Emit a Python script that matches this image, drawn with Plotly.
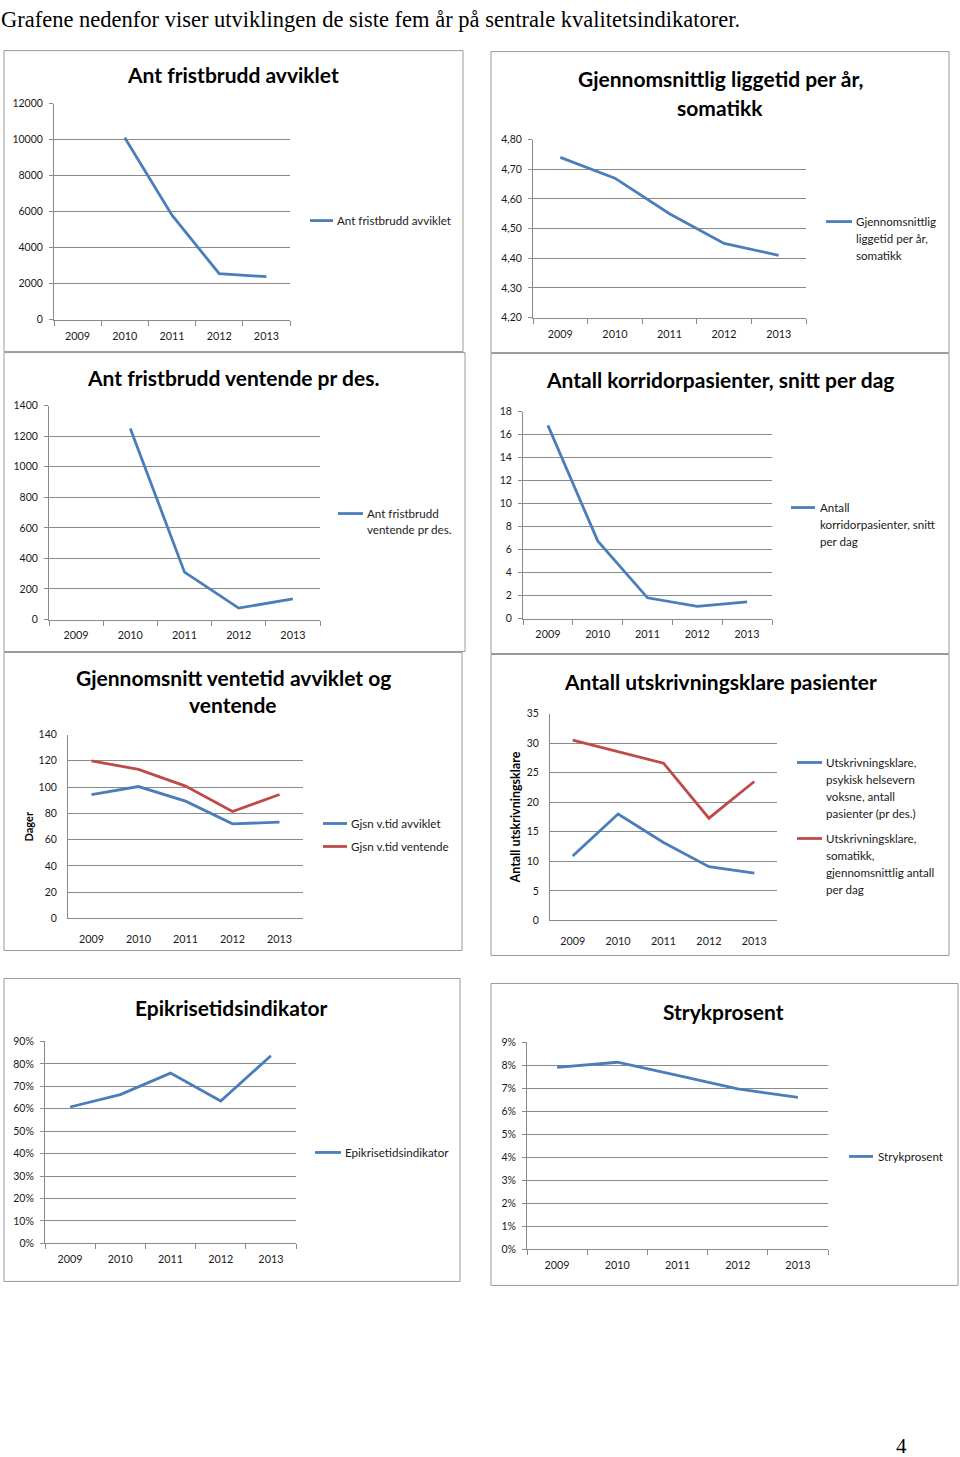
import plotly.graph_objects as go

W, H = 960, 1457

# ---------------- data ----------------
years = ["2009", "2010", "2011", "2012", "2013"]

fristbrudd_avviklet = [None, 10100, 5800, 2550, 2380]
liggetid_somatikk = [4.74, 4.67, 4.55, 4.45, 4.41]
fristbrudd_ventende = [None, 1250, 310, 75, 135]
korridorpasienter = [16.8, 6.75, 1.8, 1.05, 1.45]
ventetid_avviklet = [94.3, 100.4, 89.3, 72.0, 73.3]
ventetid_ventende = [120.0, 113.4, 100.7, 81.4, 94.3]
utskr_psykisk = [10.9, 18.0, 13.2, 9.1, 8.0]
utskr_somatikk = [30.5, 28.5, 26.6, 17.3, 23.5]
epikrisetid = [0.608, 0.663, 0.759, 0.635, 0.836]
strykprosent = [0.0792, 0.0814, 0.0757, 0.0698, 0.0661]

header_text = "Grafene nedenfor viser utviklingen de siste fem år på sentrale kvalitetsindikatorer."
page_number = "4"

BLUE = "#4a7ebb"
RED = "#be4b48"
GRID = "#8a8a8a"
BORDER = "#9a9a9a"
TXT = "#1a1a1a"
FONT = "Lato"

panels = [
    dict(box=(4, 50, 463, 351), plot=(54, 103, 290, 319),
         titles=[("Ant fristbrudd avviklet", 74)], tcx=233,
         yrange=[0, 12000], dtick=2000, fmt="d", xticks=True, yticks=True,
         series=[dict(name="Ant fristbrudd avviklet", y=fristbrudd_avviklet, color=BLUE,
                      lines=["Ant fristbrudd avviklet"], ly=[220])],
         leg=(310, 333, 335)),
    dict(box=(491, 51, 949, 352), plot=(533, 139, 806, 317),
         titles=[("Gjennomsnittlig liggetid per år,", 78), ("somatikk", 107)], tcx=720,
         yrange=[4.2, 4.8], dtick=0.1, fmt=".2f", xticks=True, yticks=True,
         series=[dict(name="Gjennomsnittlig liggetid per år, somatikk", y=liggetid_somatikk, color=BLUE,
                      lines=["Gjennomsnittlig", "liggetid per år,", "somatikk"], ly=[221, 238, 255])],
         leg=(826, 852, 854)),
    dict(box=(4, 352, 465, 651), plot=(49, 405, 320, 619),
         titles=[("Ant fristbrudd ventende pr des.", 377)], tcx=233,
         yrange=[0, 1400], dtick=200, fmt="d", xticks=True, yticks=True,
         series=[dict(name="Ant fristbrudd ventende pr des.", y=fristbrudd_ventende, color=BLUE,
                      lines=["Ant fristbrudd", "ventende pr des."], ly=[513, 529])],
         leg=(338, 363, 365)),
    dict(box=(491, 353, 949, 653), plot=(523, 411, 772, 618),
         titles=[("Antall korridorpasienter, snitt per dag", 379)], tcx=720,
         yrange=[0, 18], dtick=2, fmt="d", xticks=True, yticks=True,
         series=[dict(name="Antall korridorpasienter, snitt per dag", y=korridorpasienter, color=BLUE,
                      lines=["Antall", "korridorpasienter, snitt", "per dag"], ly=[507, 524, 541])],
         leg=(791, 815, 818)),
    dict(box=(4, 652, 462, 950), plot=(68, 734, 303, 918),
         titles=[("Gjennomsnitt ventetid avviklet og", 677), ("ventende", 704)], tcx=233,
         yrange=[0, 140], dtick=20, fmt="d", xticks=False, yticks=False,
         ytitle=("Dager", 28, 826, 11),
         series=[dict(name="Gjsn v.tid avviklet", y=ventetid_avviklet, color=BLUE,
                      lines=["Gjsn v.tid avviklet"], ly=[823]),
                 dict(name="Gjsn v.tid ventende", y=ventetid_ventende, color=RED,
                      lines=["Gjsn v.tid ventende"], ly=[846])],
         leg=(323, 347, 349)),
    dict(box=(491, 654, 949, 955), plot=(550, 713, 777, 920),
         titles=[("Antall utskrivningsklare pasienter", 681)], tcx=720,
         yrange=[0, 35], dtick=5, fmt="d", xticks=False, yticks=False,
         ytitle=("Antall utskrivningsklare", 515, 817, 12.5),
         series=[dict(name="Utskrivningsklare, psykisk helsevern voksne, antall pasienter (pr des.)",
                      y=utskr_psykisk, color=BLUE,
                      lines=["Utskrivningsklare,", "psykisk helsevern", "voksne, antall", "pasienter (pr des.)"],
                      ly=[762, 779, 796, 813]),
                 dict(name="Utskrivningsklare, somatikk, gjennomsnittlig antall per dag",
                      y=utskr_somatikk, color=RED,
                      lines=["Utskrivningsklare,", "somatikk,", "gjennomsnittlig antall", "per dag"],
                      ly=[838, 855, 872, 889])],
         leg=(797, 822, 824)),
    dict(box=(4, 978, 460, 1281), plot=(45, 1041, 296, 1243),
         titles=[("Epikrisetidsindikator", 1007)], tcx=231,
         yrange=[0, 0.9], dtick=0.1, fmt=".0%", xticks=True, yticks=True,
         series=[dict(name="Epikrisetidsindikator", y=epikrisetid, color=BLUE,
                      lines=["Epikrisetidsindikator"], ly=[1152])],
         leg=(315, 341, 343)),
    dict(box=(491, 983, 958, 1285), plot=(527, 1042, 828, 1249),
         titles=[("Strykprosent", 1011)], tcx=723,
         yrange=[0, 0.09], dtick=0.01, fmt=".0%", xticks=True, yticks=True,
         series=[dict(name="Strykprosent", y=strykprosent, color=BLUE,
                      lines=["Strykprosent"], ly=[1156])],
         leg=(849, 873, 876)),
]

# observed page-capture mapping: shown_y ~= 0.9919 * y + 5.4 ; compensate
VS, VO = 0.9919, 5.4


def X(px):
    return px / W


def Y(py):
    return 1 - ((py - VO) / VS) / H


fig = go.Figure()
shapes = []
annotations = []
layout_axes = {}

for i, p in enumerate(panels):
    n = i + 1
    sfx = "" if n == 1 else str(n)
    xa, ya = "x" + sfx, "y" + sfx
    for s in p["series"]:
        fig.add_trace(go.Scatter(
            x=years, y=s["y"], name=s["name"], mode="lines",
            line=dict(color=s["color"], width=2.8),
            xaxis=xa, yaxis=ya, showlegend=False, connectgaps=False,
            hoverinfo="skip"))
    x0, y0, x1, y1 = p["plot"]
    layout_axes["xaxis" + sfx] = dict(
        domain=[X(x0), X(x1)], anchor=ya, type="category",
        range=[-0.5, 4.5], tickson="boundaries",
        ticks="outside" if p["xticks"] else "", ticklen=5, tickcolor=GRID,
        showline=True, linecolor=GRID, linewidth=1, showgrid=False,
        tickfont=dict(family=FONT, size=10.8, color=TXT),
        ticklabelstandoff=6 if p["xticks"] else 11,
        fixedrange=True)
    layout_axes["yaxis" + sfx] = dict(
        domain=[Y(y1), Y(y0)], anchor=xa, range=p["yrange"],
        tick0=p["yrange"][0], dtick=p["dtick"], tickformat=p["fmt"],
        showgrid=True, gridcolor=GRID, gridwidth=1, zeroline=False,
        showline=True, linecolor=GRID, linewidth=1,
        ticks="outside" if p["yticks"] else "", ticklen=4, tickcolor=GRID,
        tickfont=dict(family=FONT, size=10.5, color=TXT),
        ticklabelstandoff=4 if p["yticks"] else 8,
        fixedrange=True)

    bx0, by0, bx1, by1 = p["box"]
    shapes.append(dict(type="rect", xref="paper", yref="paper",
                       x0=X(bx0), x1=X(bx1), y0=Y(by1), y1=Y(by0),
                       line=dict(color=BORDER, width=1), fillcolor="rgba(0,0,0,0)"))
    for text, ty in p["titles"]:
        annotations.append(dict(text="<b>%s</b>" % text, x=X(p["tcx"]), y=Y(ty),
                                xref="paper", yref="paper", xanchor="center", yanchor="middle",
                                showarrow=False, font=dict(family=FONT, size=21, color="#000")))
    if "ytitle" in p:
        t, tx, ty, ts = p["ytitle"]
        annotations.append(dict(text="<b>%s</b>" % t, x=X(tx), y=Y(ty), xref="paper", yref="paper",
                                xanchor="center", yanchor="middle", textangle=-90, showarrow=False,
                                font=dict(family=FONT, size=ts, color="#000")))
    lx0, lx1, ltx = p["leg"]
    for s in p["series"]:
        shapes.append(dict(type="line", xref="paper", yref="paper",
                           x0=X(lx0), x1=X(lx1), y0=Y(s["ly"][0]), y1=Y(s["ly"][0]),
                           line=dict(color=s["color"], width=2.8)))
        for line_text, yy in zip(s["lines"], s["ly"]):
            annotations.append(dict(text=line_text, x=X(ltx), y=Y(yy), xref="paper", yref="paper",
                                    xanchor="left", yanchor="middle", showarrow=False,
                                    font=dict(family=FONT, size=11.6, color=TXT)))

annotations.append(dict(text=header_text, x=X(0), y=1, xref="paper", yref="paper",
                        xanchor="left", yanchor="top", showarrow=False, borderpad=0,
                        font=dict(family="Liberation Serif", size=22.5, color="#000")))
annotations.append(dict(text=page_number, x=X(901), y=Y(1446), xref="paper", yref="paper",
                        xanchor="center", yanchor="middle", showarrow=False,
                        font=dict(family="Liberation Serif", size=21, color="#000")))

fig.update_layout(
    width=W, height=H, margin=dict(l=0, r=0, t=0, b=0),
    paper_bgcolor="white", plot_bgcolor="white",
    separators=", ", showlegend=False,
    shapes=shapes, annotations=annotations, **layout_axes)

fig.write_html("out.html", config=dict(displayModeBar=False),
               post_script="document.body.style.margin='0px';document.body.style.padding='0px';"
                           "document.documentElement.style.overflow='hidden';")
